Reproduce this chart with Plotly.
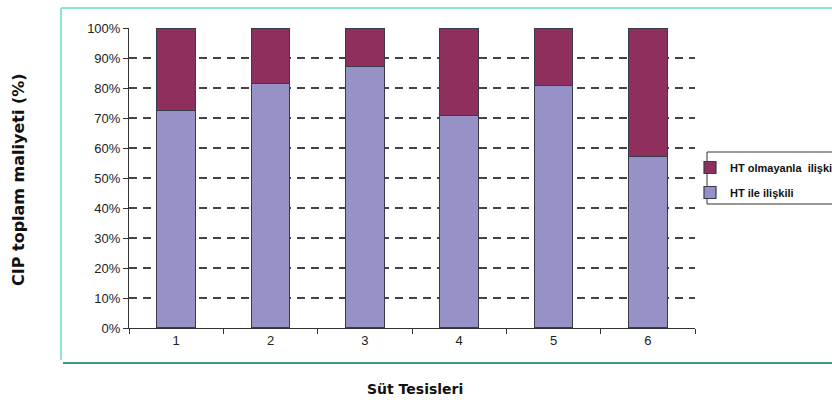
import plotly.graph_objects as go

categories = ["1", "2", "3", "4", "5", "6"]
ht_related = [72.4, 81.6, 87.3, 70.9, 80.8, 57.1]
non_ht = [round(100 - v, 1) for v in ht_related]
y_ticks = [0, 10, 20, 30, 40, 50, 60, 70, 80, 90, 100]
y_tick_labels = [f"{v}%" for v in y_ticks]

W, H = 832, 405
L, R, T, B = 129, 137, 28, 77
PW, PH = W - L - R, H - T - B


def px(x):
    return (x - L) / PW


def py(y):
    return 1 - (y - T) / PH


fig = go.Figure()
fig.add_trace(go.Bar(
    x=categories, y=ht_related, name="HT ile ilişkili", legendgroup="a", legendrank=2,
    marker=dict(color="#9692C8", line=dict(color="#3a3a48", width=1.2)),
    width=0.41,
))
fig.add_trace(go.Bar(
    x=categories, y=non_ht, name="HT olmayanla  ilişki", legendgroup="b", legendrank=1,
    marker=dict(color="#8E2F5E", line=dict(color="#3a3a48", width=1.2)),
    width=0.41,
))

fig.update_layout(
    width=W, height=H,
    barmode="stack",
    plot_bgcolor="white", paper_bgcolor="white",
    margin=dict(l=L, r=R, t=T, b=B, pad=0, autoexpand=False),
    font=dict(family="Liberation Sans, Arial, sans-serif", size=13, color="#222"),
    showlegend=True,
    legend=dict(
        x=px(690), y=py(153),
        xanchor="left", yanchor="top",
        traceorder="grouped", tracegroupgap=6,
        borderwidth=0, bgcolor="rgba(0,0,0,0)",
        font=dict(family="Liberation Sans, Arial, sans-serif", size=11, color="#111", weight="bold"),
        itemwidth=30,
    ),
    xaxis=dict(
        type="category",
        showline=True, linecolor="#333", linewidth=1,
        ticks="outside", tickson="boundaries", ticklen=5, tickcolor="#333",
        showgrid=False,
        tickfont=dict(size=13, color="#222"),
    ),
    yaxis=dict(
        range=[0, 100],
        tickvals=y_ticks, ticktext=y_tick_labels,
        showline=True, linecolor="#333", linewidth=1,
        ticks="outside", ticklen=5, tickcolor="#333",
        showgrid=True, gridcolor="#444", griddash="8px,6px", gridwidth=1.5,
        zeroline=False,
        tickfont=dict(size=13, color="#222"),
    ),
    annotations=[
        dict(text="<b>CIP toplam maliyeti (%)</b>", xref="paper", yref="paper",
             x=px(18), y=py(180),
             textangle=-90, showarrow=False, xanchor="center", yanchor="middle",
             font=dict(family="DejaVu Sans, sans-serif", size=16, color="#111")),
        dict(text="<b>Süt Tesisleri</b>", xref="paper", yref="paper",
             x=px(415), y=py(389),
             showarrow=False, xanchor="center", yanchor="middle",
             font=dict(family="DejaVu Sans, sans-serif", size=14, color="#111")),
    ],
    shapes=[
        dict(type="line", xref="paper", yref="paper",
             x0=px(61), x1=px(840), y0=py(8), y1=py(8),
             line=dict(color="#8ae6cf", width=2)),
        dict(type="line", xref="paper", yref="paper",
             x0=px(61), x1=px(61), y0=py(8), y1=py(360),
             line=dict(color="#8ae6cf", width=2)),
        dict(type="line", xref="paper", yref="paper",
             x0=px(63), x1=px(840), y0=py(363), y1=py(363),
             line=dict(color="#3a9a7a", width=2)),
        dict(type="rect", xref="paper", yref="paper",
             x0=px(707), x1=px(845), y0=py(152), y1=py(204),
             line=dict(color="#333", width=1), fillcolor="rgba(0,0,0,0)"),
    ],
)

fig.write_html("out.html", config={"displayModeBar": False},
               post_script="document.body.style.margin='0';")
